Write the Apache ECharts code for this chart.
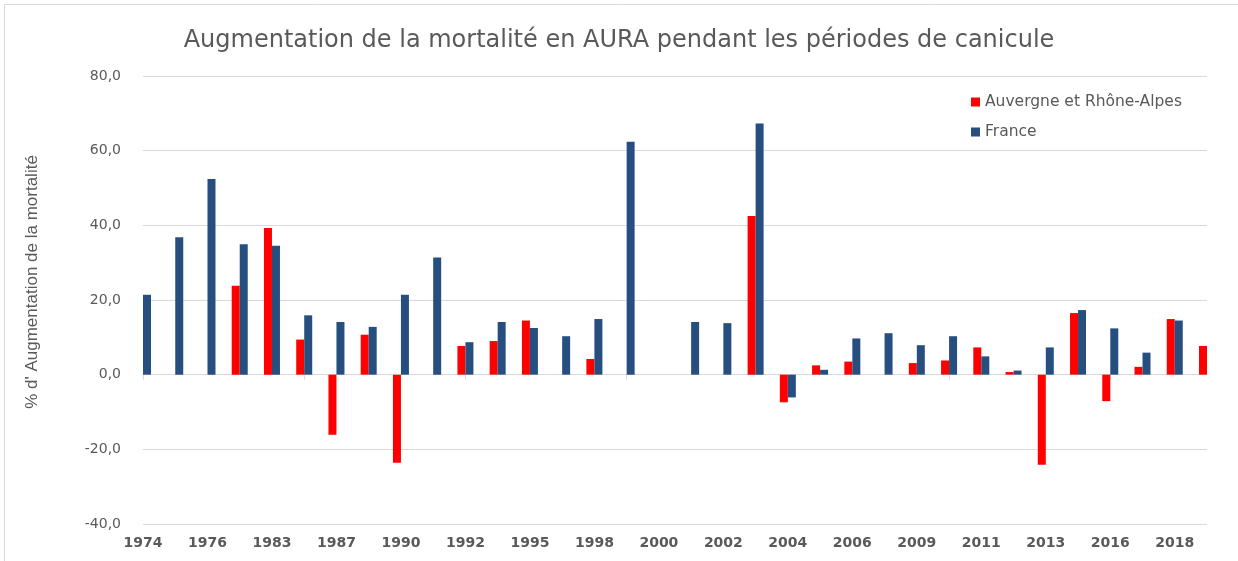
<!DOCTYPE html>
<html>
<head>
<meta charset="utf-8">
<title>Mortalité canicule AURA</title>
<script src="https://cdn.jsdelivr.net/npm/echarts@6/dist/echarts.min.js"></script>
<style>
html, body { margin: 0; padding: 0; background: #fff; }
#chart { width: 1238px; height: 561px; }
</style>
</head>
<body>
<div id="chart"></div>
<script>
// annees (une sur deux seulement est affichee sur l'axe)
var annees = ['1974', '1975', '1976', '1982', '1983', '1986', '1987', '1989', '1990', '1991',
    '1992', '1994', '1995', '1996', '1998', '1999', '2000', '2001', '2002', '2003',
    '2004', '2005', '2006', '2008', '2009', '2010', '2011', '2012', '2013', '2015',
    '2016', '2017', '2018', '2019'];

var aura = [null, null, null, 23.8, 39.3, 9.4, -16.1, 10.7, -23.6, null,
    7.7, 9.0, 14.5, null, 4.2, null, null, null, null, 42.5,
    -7.4, 2.5, 3.5, null, 3.1, 3.8, 7.3, 0.7, -24.1, 16.5,
    -7.1, 2.1, 14.9, 7.7];

var france = [21.4, 36.8, 52.4, 34.9, 34.5, 15.9, 14.1, 12.8, 21.4, 31.4,
    8.7, 14.1, 12.5, 10.3, 14.9, 62.4, null, 14.1, 13.8, 67.3,
    -6.1, 1.3, 9.7, 11.1, 7.9, 10.3, 4.9, 1.1, 7.3, 17.3,
    12.4, 5.9, 14.5, null];

var gris = '#595959';
var chart = document.getElementById('chart');
var myChart = echarts.init(chart);

var option = {
    animation: false,
    backgroundColor: '#fff',
    title: {
        text: 'Augmentation de la mortalité en AURA pendant les périodes de canicule',
        left: 'center',
        top: 24,
        textStyle: {
            fontFamily: 'DejaVu Sans',
            fontWeight: 'normal',
            fontSize: 24,
            color: gris
        }
    },
    legend: {
        orient: 'vertical',
        left: 966,
        top: 89,
        icon: 'rect',
        itemWidth: 9,
        itemHeight: 9,
        itemGap: 14,
        textStyle: {
            fontFamily: 'DejaVu Sans',
            fontSize: 15.5,
            color: gris
        },
        data: ['Auvergne et Rhône-Alpes', 'France']
    },
    grid: {
        left: 143,
        right: 31,
        top: 76,
        bottom: 37,
        outerBoundsMode: 'none'
    },
    xAxis: [{
        type: 'category',
        data: annees,
        boundaryGap: false,
        position: 'bottom',
        axisLine: { onZero: true, lineStyle: { color: '#d9d9d9' } },
        axisTick: { interval: 4, length: 5, lineStyle: { color: '#d9d9d9' } },
        axisLabel: { show: false },
        splitLine: { show: false }
    }, {
        // deuxieme axe juste pour les libelles en bas
        type: 'category',
        data: annees,
        boundaryGap: false,
        position: 'bottom',
        axisLine: { show: false, onZero: false },
        axisTick: { show: false },
        axisLabel: {
            interval: 1,
            margin: 12,
            fontFamily: 'DejaVu Sans',
            fontWeight: 'bold',
            fontSize: 14,
            color: gris
        },
        splitLine: { show: false }
    }],
    yAxis: {
        type: 'value',
        min: -40,
        max: 80,
        interval: 20,
        name: "% d' Augmentation de la mortalité",
        nameLocation: 'middle',
        nameRotate: 90,
        nameGap: 102,
        nameTextStyle: {
            fontFamily: 'Liberation Sans',
            fontSize: 17,
            color: gris,
            padding: [0, 0, 0, 36]
        },
        axisLine: { show: false },
        axisTick: { show: false },
        axisLabel: {
            margin: 22,
            fontFamily: 'DejaVu Sans',
            fontSize: 14,
            color: gris,
            formatter: function (v) {
                return v.toFixed(1).replace('.', ',');
            }
        },
        splitLine: { lineStyle: { color: '#d9d9d9' } }
    },
    graphic: [{
        type: 'rect',
        shape: { x: 4.5, y: 4.5, width: 1400, height: 700 },
        style: { fill: 'none', stroke: '#d9d9d9', lineWidth: 1 },
        silent: true
    }],
    series: [
        {
            name: 'Auvergne et Rhône-Alpes',
            type: 'bar',
            xAxisIndex: 0,
            barWidth: 8,
            barGap: 0,
            itemStyle: { color: '#ff0000' },
            data: aura
        },
        {
            name: 'France',
            type: 'bar',
            xAxisIndex: 0,
            barWidth: 8,
            barGap: 0,
            itemStyle: { color: '#264f80' },
            data: france
        }
    ]
};

myChart.setOption(option);
</script>
</body>
</html>
